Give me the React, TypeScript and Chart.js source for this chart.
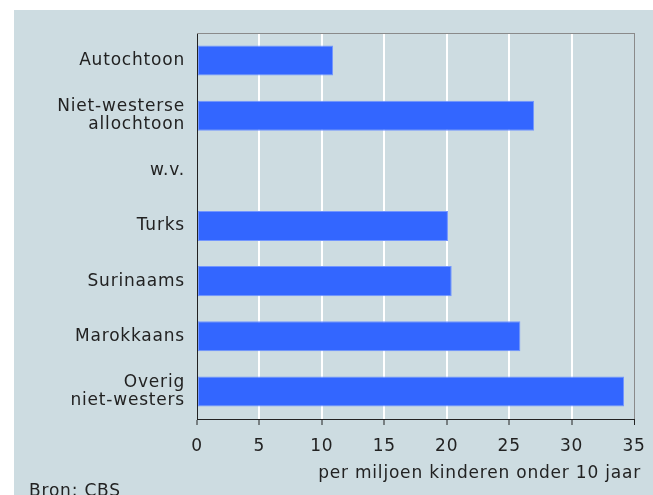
import React, { useEffect, useRef } from "react";
import { Chart, registerables } from "chart.js";

Chart.register(...registerables);

const categories: (string | string[])[] = [
  "Autochtoon",
  ["Niet-westerse", "allochtoon"],
  "w.v.",
  "Turks",
  "Surinaams",
  "Marokkaans",
  ["Overig", "niet-westers"],
];
const values: (number | null)[] = [10.9, 27.0, null, 20.1, 20.4, 25.9, 34.2];
const xTicks: number[] = [0, 5, 10, 15, 20, 25, 30, 35];
const axisTitle = "per miljoen kinderen onder 10 jaar";
const sourceText = "Bron: CBS";

const FONT = "'DejaVu Sans', Verdana, sans-serif";
const TEXT = "#222222";
const SPACING = "0.8px";

export default function App() {
  const ref = useRef<HTMLCanvasElement | null>(null);
  useEffect(() => {
    if (!ref.current) return;
    const c2d: any = ref.current.getContext("2d");
    if (c2d) c2d.letterSpacing = SPACING;
    const framePlugin = {
      id: "frame",
      beforeInit(chart: any) {
        chart.ctx.letterSpacing = SPACING;
      },
      beforeUpdate(chart: any) {
        chart.ctx.letterSpacing = SPACING;
      },
      beforeDraw(chart: any) {
        chart.ctx.letterSpacing = SPACING;
      },
      beforeDatasetsDraw(chart: any) {
        const { ctx, chartArea } = chart;
        ctx.save();
        ctx.strokeStyle = "#8a8a8a";
        ctx.lineWidth = 1;
        ctx.beginPath();
        ctx.moveTo(chartArea.left, Math.round(chartArea.top) + 0.5);
        ctx.lineTo(chartArea.right, Math.round(chartArea.top) + 0.5);
        ctx.stroke();
        ctx.restore();
      },
      afterDraw(chart: any) {
        const { ctx, chartArea } = chart;
        ctx.save();
        ctx.letterSpacing = SPACING;
        ctx.fillStyle = TEXT;
        ctx.font = `17px ${FONT}`;
        ctx.textBaseline = "alphabetic";
        ctx.textAlign = "right";
        ctx.fillText(axisTitle, chartArea.right + 7, 468);
        ctx.textAlign = "left";
        ctx.fillText(sourceText, 15, 486);
        ctx.restore();
      },
    };
    const chart = new Chart(ref.current, {
      type: "bar",
      data: {
        labels: categories,
        datasets: [
          {
            data: values,
            backgroundColor: "#3366ff",
            borderColor: "#7396ff",
            borderWidth: 1,
            borderSkipped: false,
            categoryPercentage: 1,
            barPercentage: 0.545,
          },
        ],
      },
      options: {
        indexAxis: "y",
        animation: false,
        responsive: false,
        maintainAspectRatio: false,
        layout: { padding: { top: 23, right: 19, left: 0, bottom: 0 } },
        plugins: {
          legend: { display: false },
          tooltip: { enabled: false },
          title: { display: false },
        },
        scales: {
          x: {
            min: 0,
            max: 35,
            afterFit(scale: any) {
              scale.height = 76;
              scale.paddingLeft = 0;
              scale.paddingRight = 0;
              scale.paddingTop = 0;
              scale.paddingBottom = 0;
            },
            afterBuildTicks(scale: any) {
              scale.ticks = xTicks.map((v) => ({ value: v }));
            },
            ticks: {
              color: TEXT,
              font: { family: FONT, size: 17, lineHeight: 1 },
              padding: 13,
              maxRotation: 0,
            },
            grid: {
              color: (c: any) =>
                c.index === 0 ? "rgba(0,0,0,0)" : c.index === xTicks.length - 1 ? "#8a8a8a" : "#ffffff",
              lineWidth: (c: any) => (c.index === xTicks.length - 1 ? 1 : 2),
              tickColor: TEXT,
              tickWidth: 1,
              tickLength: 6,
              drawTicks: true,
            },
            border: { display: true, color: TEXT, width: 1 },
          },
          y: {
            afterFit(scale: any) {
              scale.width = 183;
              scale.paddingLeft = 0;
              scale.paddingRight = 0;
              scale.paddingTop = 0;
              scale.paddingBottom = 0;
            },
            ticks: {
              color: TEXT,
              font: { family: FONT, size: 17, lineHeight: 1.1 },
              padding: 12,
            },
            grid: { display: false, drawTicks: false },
            border: { display: true, color: TEXT, width: 1 },
          },
        },
      },
      plugins: [framePlugin],
    } as any);
    return () => chart.destroy();
  }, []);
  return (
    <div
      style={{
        position: "fixed",
        left: 14,
        top: 10,
        width: 639,
        height: 485,
        background: "#cddce1",
        overflow: "hidden",
      }}
    >
      <canvas ref={ref} width={639} height={485} style={{ display: "block", width: 639, height: 485 }} />
    </div>
  );
}
